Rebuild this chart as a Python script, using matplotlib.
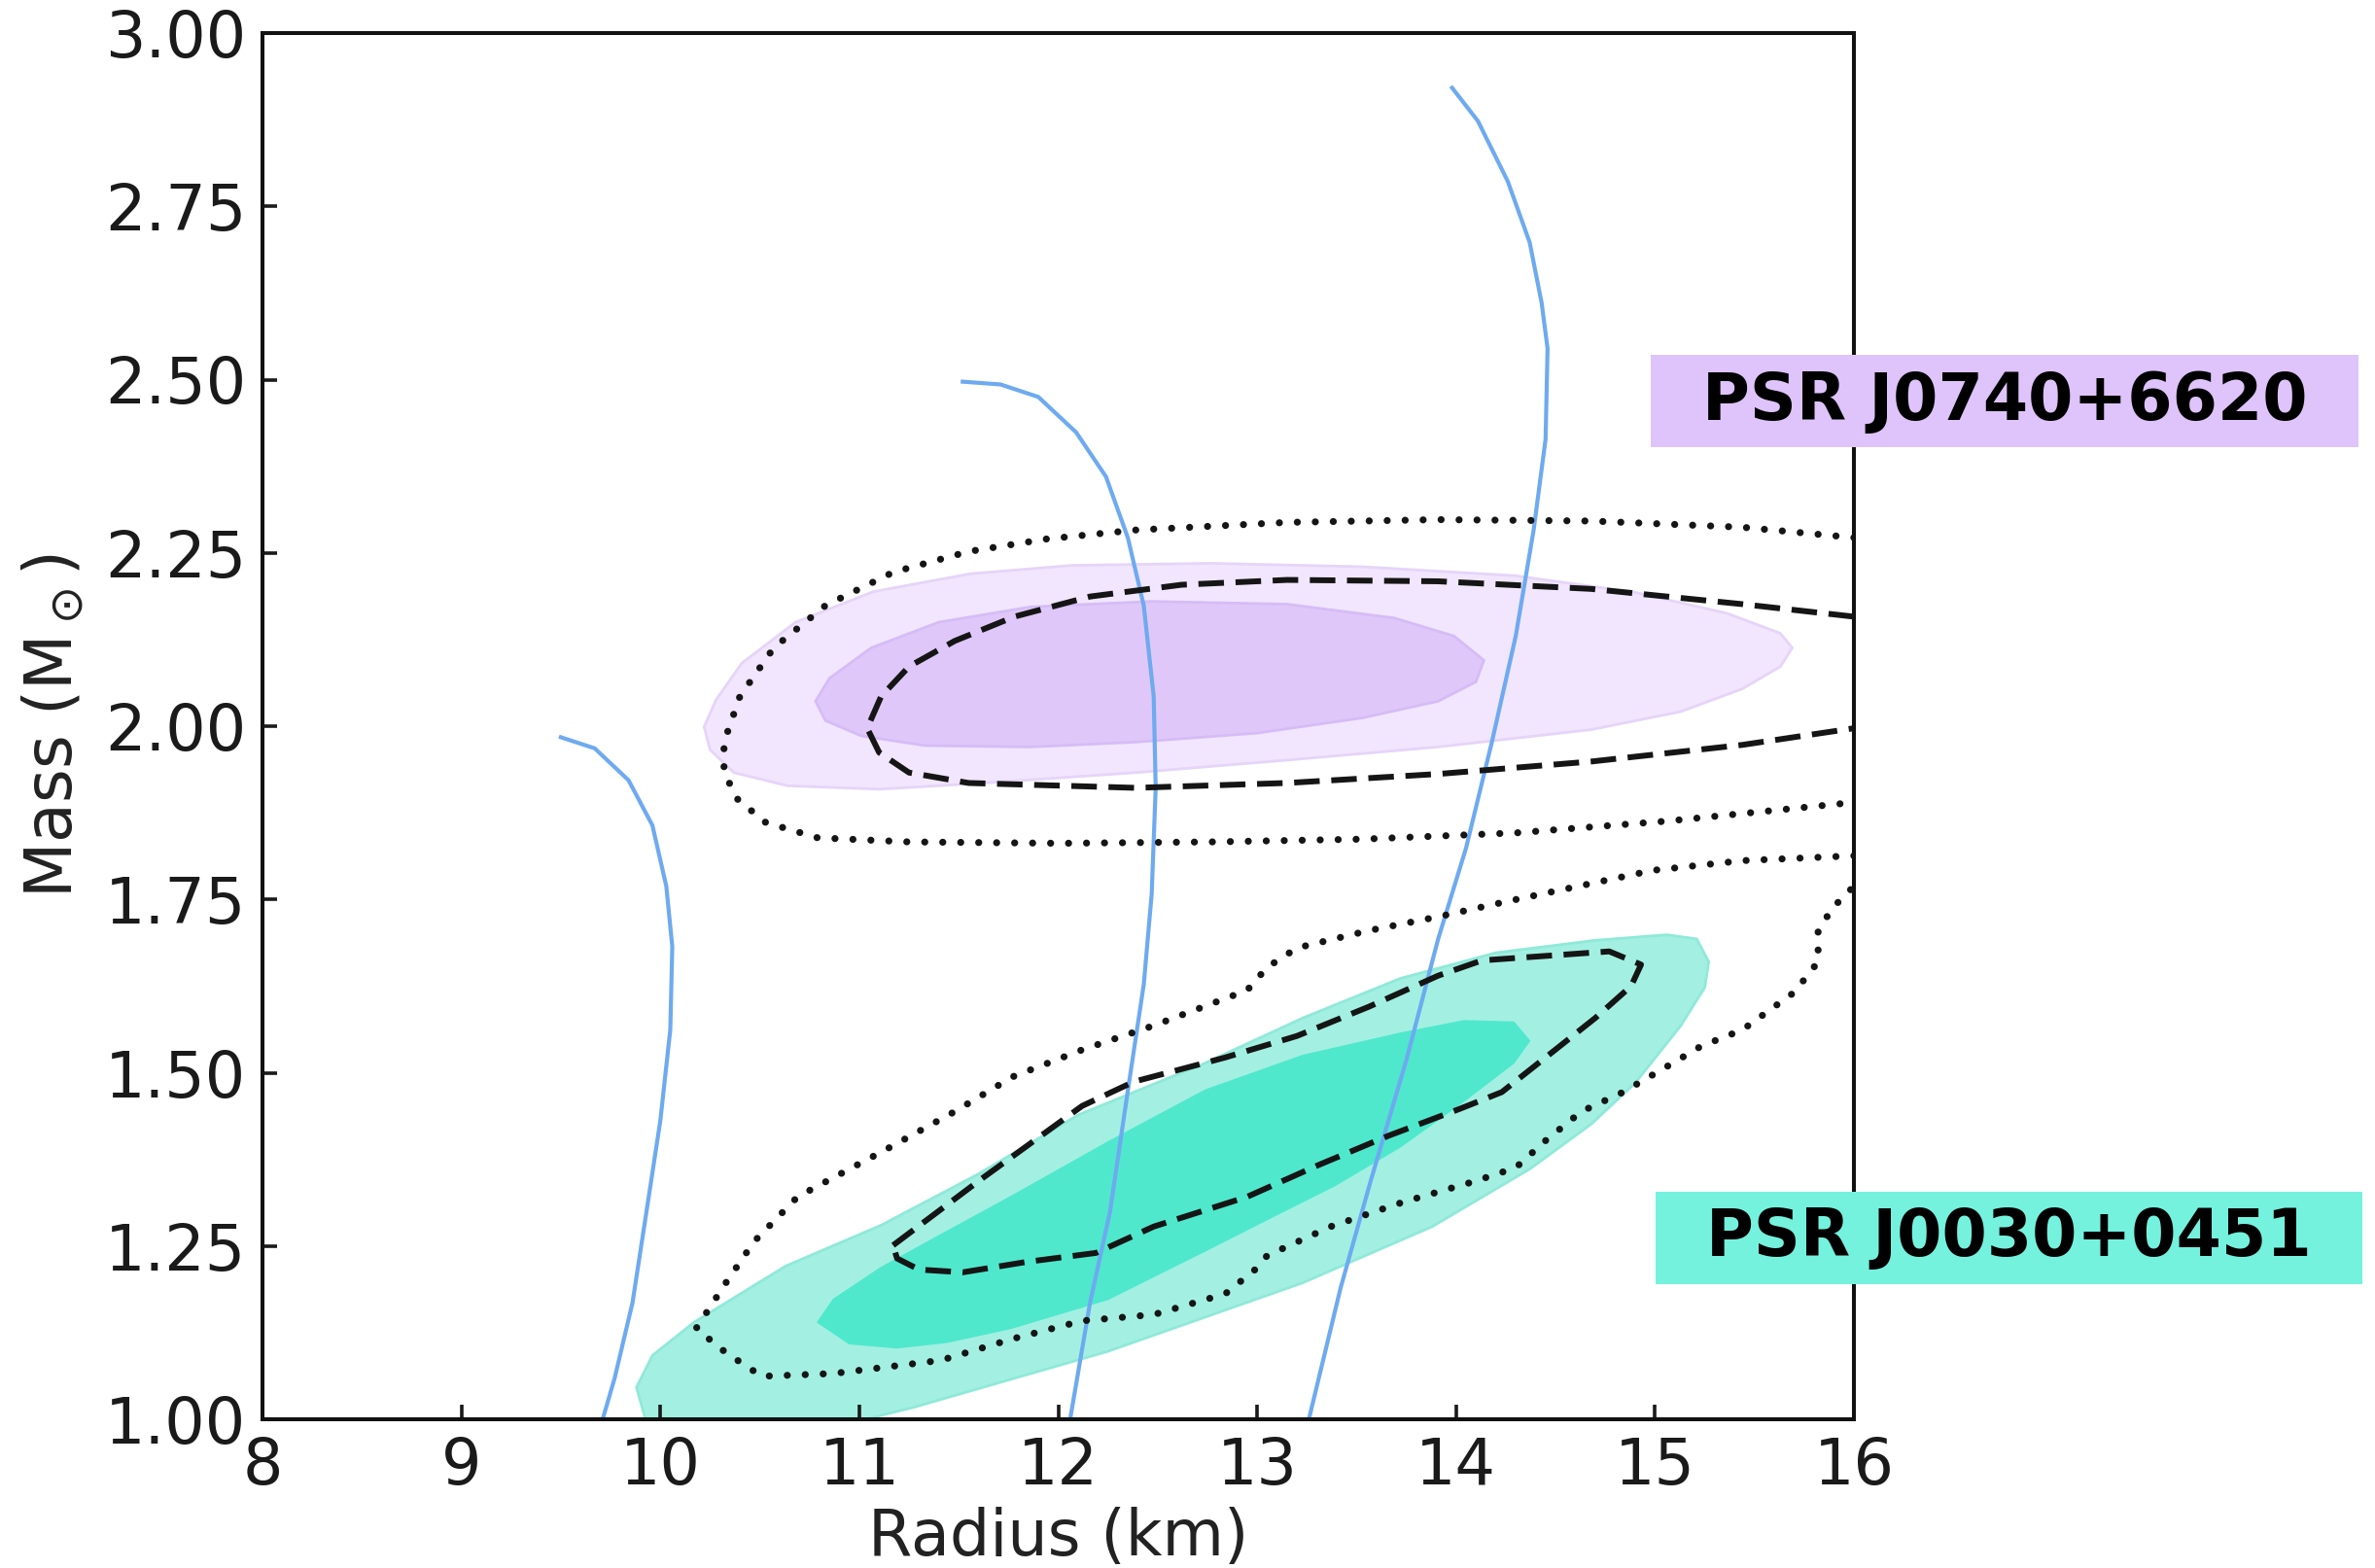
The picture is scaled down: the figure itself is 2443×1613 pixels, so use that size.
import matplotlib.pyplot as plt
from matplotlib.patches import Rectangle

# Mass-radius relations for three equations of state (R in km, M in Msun)
eos_soft_r = [9.50, 9.67, 9.84, 9.96, 10.03, 10.06, 10.05, 10.00, 9.93, 9.86, 9.77, 9.71, 9.69]
eos_soft_m = [1.984, 1.968, 1.922, 1.857, 1.769, 1.682, 1.562, 1.431, 1.299, 1.168, 1.059, 1.0, 0.97]

eos_mid_r = [11.52, 11.71, 11.90, 12.09, 12.24, 12.35, 12.43, 12.48, 12.49, 12.47, 12.43, 12.35, 12.26, 12.16, 12.06, 12.04]
eos_mid_m = [2.497, 2.493, 2.475, 2.424, 2.360, 2.272, 2.174, 2.043, 1.911, 1.758, 1.627, 1.474, 1.299, 1.168, 1.0, 0.97]

eos_stiff_r = [13.98, 14.11, 14.26, 14.37, 14.43, 14.46, 14.45, 14.39, 14.30, 14.18, 14.05, 13.91, 13.75, 13.57, 13.42, 13.26, 13.24]
eos_stiff_m = [2.921, 2.873, 2.786, 2.698, 2.611, 2.545, 2.414, 2.283, 2.130, 1.977, 1.824, 1.693, 1.518, 1.343, 1.190, 1.0, 0.97]

# PSR J0740+6620 credible regions (filled: outer / inner)
j0740_outer_r = [10.22, 10.28, 10.41, 10.68, 11.07, 11.56, 12.07, 12.77, 13.53, 14.30, 14.90, 15.36, 15.63,
                 15.69, 15.63, 15.44, 15.13, 14.68, 13.91, 13.15, 12.39, 11.63, 11.10, 10.64, 10.37, 10.25]
j0740_outer_m = [1.999, 2.038, 2.091, 2.150, 2.194, 2.220, 2.232, 2.235, 2.230, 2.217, 2.193, 2.163, 2.134,
                 2.113, 2.086, 2.054, 2.021, 1.995, 1.970, 1.951, 1.933, 1.918, 1.909, 1.914, 1.933, 1.966]

j0740_inner_r = [10.78, 10.85, 11.06, 11.40, 11.86, 12.47, 13.15, 13.69, 13.99, 14.14, 14.10, 13.91, 13.53,
                 13.00, 12.39, 11.86, 11.33, 11.01, 10.83]
j0740_inner_m = [2.036, 2.069, 2.113, 2.150, 2.172, 2.180, 2.176, 2.156, 2.130, 2.095, 2.064, 2.036, 2.012,
                 1.990, 1.977, 1.970, 1.972, 1.986, 2.008]

# PSR J0740+6620 alternative analysis (dashed: 68%, dotted: 95%)
j0740_dash_r = [16.0, 15.44, 14.68, 13.91, 13.15, 12.62, 12.16, 11.78, 11.48, 11.25, 11.11, 11.04, 11.10,
                11.25, 11.55, 12.39, 13.15, 13.91, 14.68, 15.44, 16.0]
j0740_dash_m = [2.158, 2.176, 2.198, 2.209, 2.211, 2.204, 2.187, 2.158, 2.123, 2.086, 2.043, 1.997, 1.962,
                1.933, 1.918, 1.911, 1.918, 1.931, 1.949, 1.973, 1.997]

j0740_dot_r = [16.0, 15.44, 14.68, 13.91, 13.15, 12.39, 11.94, 11.55, 11.17, 10.83, 10.57, 10.40, 10.32,
               10.32, 10.39, 10.53, 10.79, 11.25, 12.01, 12.77, 13.53, 14.30, 15.06, 16.0]
j0740_dot_m = [2.272, 2.287, 2.296, 2.298, 2.294, 2.283, 2.270, 2.252, 2.222, 2.174, 2.113, 2.043, 1.977,
               1.933, 1.894, 1.861, 1.839, 1.833, 1.831, 1.833, 1.837, 1.846, 1.863, 1.890]

# PSR J0030+0451 credible regions (filled: outer / inner)
j0030_outer_r = [9.88, 9.96, 10.17, 10.63, 11.11, 11.60, 12.10, 12.74, 13.23, 13.72, 14.20, 14.70, 15.06,
                 15.21, 15.27, 15.25, 15.13, 14.90, 14.68, 14.37, 13.88, 13.23, 12.25, 11.27, 10.79, 10.26, 9.94]
j0030_outer_m = [1.046, 1.092, 1.140, 1.221, 1.280, 1.354, 1.439, 1.514, 1.579, 1.636, 1.673, 1.691, 1.699,
                 1.693, 1.660, 1.623, 1.568, 1.485, 1.426, 1.361, 1.278, 1.197, 1.098, 1.017, 0.983, 0.967, 0.985]

j0030_inner_r = [10.79, 10.87, 11.11, 11.44, 11.76, 12.25, 12.74, 13.23, 13.72, 14.04, 14.29, 14.37, 14.29,
                 14.04, 13.72, 13.39, 13.07, 12.74, 12.25, 11.76, 11.44, 11.19, 10.95]
j0030_inner_m = [1.140, 1.173, 1.219, 1.271, 1.321, 1.400, 1.475, 1.525, 1.557, 1.575, 1.573, 1.546, 1.514,
                 1.459, 1.393, 1.337, 1.291, 1.243, 1.173, 1.131, 1.111, 1.103, 1.109]

# PSR J0030+0451 alternative analysis (dashed: 68%, dotted: 95%)
j0030_dash_r = [11.17, 11.62, 12.12, 12.38, 12.84, 13.20, 13.56, 13.91, 14.13, 14.77, 14.93, 14.88, 14.70,
                14.45, 14.23, 14.02, 13.66, 13.31, 12.95, 12.48, 12.19, 11.84, 11.52, 11.30, 11.19, 11.17]
j0030_dash_m = [1.251, 1.348, 1.452, 1.487, 1.522, 1.553, 1.595, 1.640, 1.662, 1.675, 1.656, 1.625, 1.579,
                1.522, 1.472, 1.448, 1.409, 1.367, 1.321, 1.278, 1.240, 1.227, 1.212, 1.216, 1.232, 1.251]

j0030_dot_r = [16.0, 15.44, 14.99, 14.63, 14.27, 13.91, 13.56, 13.20, 13.05, 12.95, 12.48, 12.12, 11.77,
               11.48, 11.12, 10.69, 10.47, 10.33, 10.18, 10.33, 10.51, 10.87, 11.41, 11.77, 12.12, 12.48,
               12.84, 12.99, 13.05, 13.37, 13.73, 14.09, 14.30, 14.45, 14.63, 14.84, 15.09, 15.23, 15.44,
               15.70, 15.82, 15.82, 15.89, 16.0]
j0030_dot_m = [1.813, 1.806, 1.792, 1.770, 1.748, 1.725, 1.705, 1.680, 1.652, 1.619, 1.568, 1.533, 1.494,
               1.444, 1.387, 1.321, 1.256, 1.197, 1.131, 1.096, 1.062, 1.066, 1.085, 1.116, 1.142, 1.151,
               1.181, 1.216, 1.236, 1.278, 1.313, 1.343, 1.363, 1.402, 1.444, 1.472, 1.514, 1.538, 1.562,
               1.616, 1.660, 1.704, 1.737, 1.769]

x_ticks = [8, 9, 10, 11, 12, 13, 14, 15, 16]
y_ticks = [1.00, 1.25, 1.50, 1.75, 2.00, 2.25, 2.50, 2.75, 3.00]
y_tick_labels = [f"{v:.2f}" for v in y_ticks]

W, H = 2443, 1613
fig = plt.figure(figsize=(W / 100, H / 100), dpi=100)
ax = fig.add_axes([270 / W, 1 - 1460 / H, (1907 - 270) / W, (1460 - 34) / H])

# filled regions
ax.fill(j0740_outer_r, j0740_outer_m, facecolor="#f1e6fd", edgecolor="#e6d4f9", lw=2, zorder=1)
ax.fill(j0740_inner_r, j0740_inner_m, facecolor="#dfc8f9", edgecolor="#d6bcf6", lw=2, zorder=1.1)
ax.fill(j0030_outer_r, j0030_outer_m, facecolor="#a3f0e2", edgecolor="#8fe9d9", lw=2, zorder=1)
ax.fill(j0030_inner_r, j0030_inner_m, facecolor="#4fe8cd", edgecolor="#4fe8cd", lw=1, zorder=1.1)

# EOS curves
for r, m in [(eos_soft_r, eos_soft_m), (eos_mid_r, eos_mid_m), (eos_stiff_r, eos_stiff_m)]:
    ax.plot(r, m, color="#6eaaf0", lw=3.0, zorder=2)

# contour lines
dash_style = dict(color="#151515", lw=4.3, ls=(0, (4.4, 2.0)), zorder=3)
dot_style = dict(color="#151515", lw=5.2, ls=(0, (0.01, 2.55)), dash_capstyle="round", zorder=3)
ax.plot(j0740_dash_r, j0740_dash_m, **dash_style)
ax.plot(j0740_dot_r, j0740_dot_m, **dot_style)
ax.plot(j0030_dash_r, j0030_dash_m, **dash_style)
ax.plot(j0030_dot_r, j0030_dot_m, **dot_style)

ax.set_xlim(8, 16)
ax.set_ylim(1, 3)
ax.set_xticks(x_ticks)
ax.set_yticks(y_ticks)
ax.set_yticklabels(y_tick_labels)
ax.tick_params(direction="in", length=11, width=2.6, labelsize=47, pad=12, colors="#1a1a1a")
for sp in ax.spines.values():
    sp.set_linewidth(2.9)
    sp.set_color("#111111")

ax.set_xlabel("Radius (km)", fontsize=47, color="#222222", labelpad=7)
ax.set_ylabel(r"Mass (M$_\odot$)", fontsize=48, color="#222222", labelpad=14)

# pulsar name tags
tags = [
    ("PSR J0740+6620", "#dec4fa", (1698, 365, 2426, 460)),
    ("PSR J0030+0451", "#74f2de", (1703, 1226, 2430, 1321)),
]
for name, color, (x0, y0, x1, y1) in tags:
    fig.add_artist(Rectangle((x0 / W, 1 - y1 / H), (x1 - x0) / W, (y1 - y0) / H,
                             transform=fig.transFigure, facecolor=color, edgecolor="none"))
    fig.text((x0 + x1) / 2 / W, 1 - (y0 + y1) / 2 / H, name, ha="center", va="center",
             fontsize=48, fontweight="bold", color="black")

fig.savefig("out.png", dpi=100)
